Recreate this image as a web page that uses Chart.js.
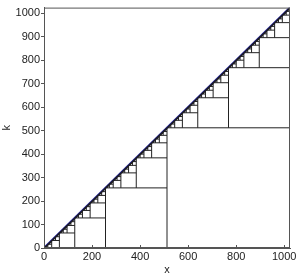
<!DOCTYPE html>
<html>
<head>
<meta charset="utf-8">
<script src="https://cdn.jsdelivr.net/npm/chart.js@4/dist/chart.umd.min.js"></script>
<style>
  html, body { margin: 0; padding: 0; background: #fff; }
  #wrap { width: 299px; height: 277px; }
</style>
</head>
<body>
<div id="wrap"><canvas id="chart"></canvas></div>
<script>
// dyadic block half-sizes drawn as the staircase of squares
const blockSizes = [512, 256, 128, 64, 32, 16, 8, 4, 2, 1];
const xRange = [0, 1024];
const kRange = [0, 1024];
const diagX = [0, 1023];
const xTicks = [0, 200, 400, 600, 800, 1000];
const kTicks = [0, 100, 200, 300, 400, 500, 600, 700, 800, 900, 1000];

// each block [a, a+2s] gets a vertical line at its middle m from k=a up to k=m,
// then a horizontal line at k=m out to the end of the block
let boxPts = [];
for (let s of blockSizes) {
  for (let a = xRange[0]; a < xRange[1]; a += 2 * s) {
    let m = a + s;
    boxPts.push({ x: m, y: a }, { x: m, y: m }, { x: a + 2 * s, y: m }, { x: NaN, y: NaN });
  }
}

let diagPts = diagX.map(v => ({ x: v, y: v }));

const font = { family: "'Liberation Sans', Arial, sans-serif", size: 11 };

const frame = {
  id: 'frame',
  afterDraw(chart) {
    const ctx = chart.ctx;
    const a = chart.chartArea;
    const xs = chart.scales.x;
    ctx.save();
    ctx.strokeStyle = '#555';
    ctx.lineWidth = 1;
    ctx.strokeRect(a.left + 0.5, a.top + 0.5, a.right - a.left - 1, a.bottom - a.top - 1);
    // x ticks point inward
    ctx.beginPath();
    for (let t of xTicks) {
      let px = Math.round(xs.getPixelForValue(t)) + 0.5;
      ctx.moveTo(px, a.bottom);
      ctx.lineTo(px, a.bottom - 3);
    }
    ctx.stroke();
    ctx.restore();
  }
};

new Chart(document.getElementById('chart'), {
  type: 'scatter',
  data: {
    datasets: [
      {
        data: boxPts,
        showLine: true,
        spanGaps: false,
        borderColor: '#222',
        borderWidth: 1,
        pointRadius: 0
      },
      {
        data: diagPts,
        showLine: true,
        borderColor: '#1a1a8c',
        borderWidth: 2,
        pointRadius: 0
      }
    ]
  },
  plugins: [frame],
  options: {
    responsive: true,
    maintainAspectRatio: false,
    animation: false,
    layout: { padding: { top: 2, right: 9, left: 0, bottom: 0 } },
    plugins: {
      legend: { display: false },
      tooltip: { enabled: false }
    },
    scales: {
      x: {
        type: 'linear',
        min: xRange[0],
        max: xRange[1],
        afterBuildTicks: s => { s.ticks = xTicks.map(v => ({ value: v })); },
        afterFit: s => { s.height = 29; },
        grid: { display: false, drawTicks: false },
        border: { display: true, color: '#555' },
        ticks: { color: '#222', font: font, padding: 2, maxRotation: 0, callback: v => String(v) },
        title: { display: true, text: 'x', color: '#222', font: font, padding: 0 }
      },
      y: {
        type: 'linear',
        min: kRange[0],
        max: kRange[1],
        afterBuildTicks: s => { s.ticks = kTicks.map(v => ({ value: v })); },
        afterFit: s => { s.width = 44; },
        grid: { drawOnChartArea: false, drawTicks: true, tickLength: 3, color: '#555' },
        border: { display: true, color: '#555' },
        ticks: { color: '#222', font: font, padding: 1, callback: v => String(v) },
        title: { display: true, text: 'k', color: '#222', font: font, padding: 0 }
      }
    }
  }
});
</script>
</body>
</html>
